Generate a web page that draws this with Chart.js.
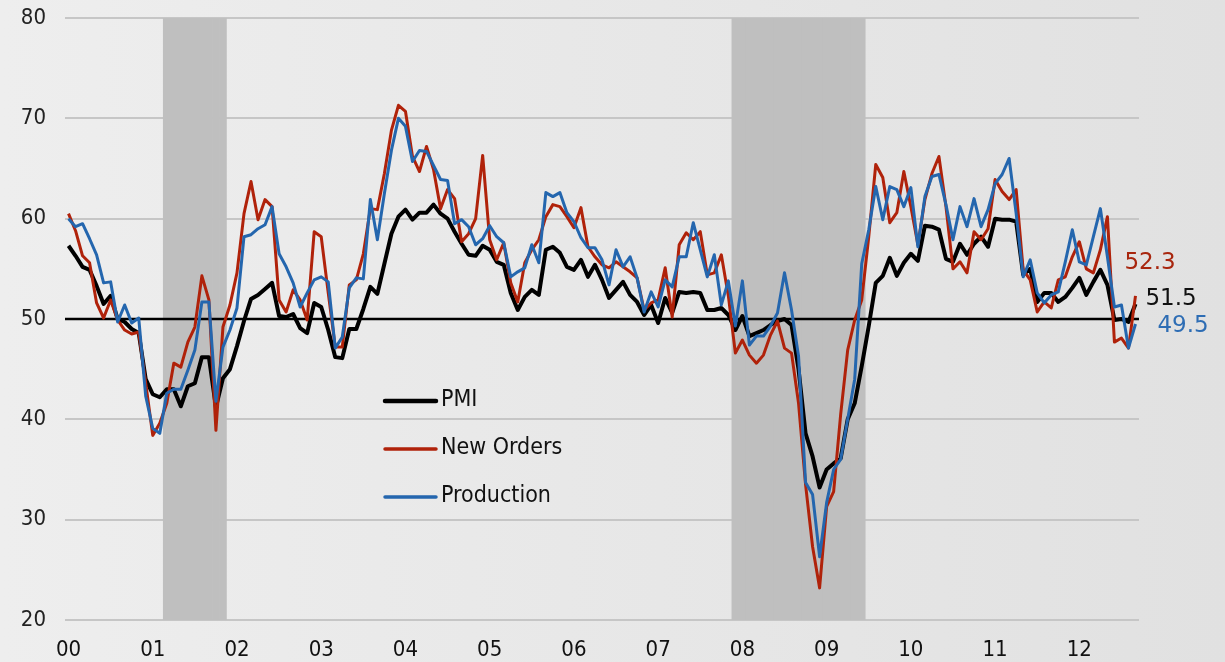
<!DOCTYPE html>
<html>
<head>
<meta charset="utf-8">
<script src="https://cdn.jsdelivr.net/npm/chart.js@4.4.0/dist/chart.umd.min.js"></script>
<style>
  html, body { margin: 0; padding: 0; background: #e8e8e8; }
</style>
</head>
<body>
<canvas id="pmiChart" width="1225" height="662"></canvas>
<script>
// monthly, Jan 2000 - Sep 2012
const startYear = 2000;

const pmi = [
  57.3, 56.3, 55.2, 54.9, 53.3, 51.5, 52.3, 50.0, 49.7, 49.0, 48.6, 44.0,
  42.5, 42.2, 43.0, 43.0, 41.3, 43.3, 43.6, 46.2, 46.2, 41.2, 44.1, 45.0,
  47.3, 49.8, 52.0, 52.4, 53.0, 53.6, 50.3, 50.2, 50.5, 49.1, 48.6, 51.6,
  51.2, 48.9, 46.2, 46.1, 49.0, 49.0, 51.0, 53.2, 52.5, 55.5, 58.5, 60.2,
  60.9, 59.9, 60.6, 60.6, 61.4, 60.5, 60.0, 58.7, 57.5, 56.4, 56.3, 57.3,
  56.9, 55.7, 55.4, 52.6, 50.9, 52.2, 52.9, 52.4, 56.9, 57.2, 56.6, 55.2,
  54.9, 55.9, 54.2, 55.4, 53.9, 52.1, 52.9, 53.7, 52.4, 51.7, 50.4, 51.4,
  49.6, 52.1, 50.6, 52.7, 52.6, 52.7, 52.6, 50.9, 50.9, 51.1, 50.4, 48.9,
  50.3, 48.3, 48.6, 48.9, 49.4, 49.8, 50.0, 49.4, 45.0, 38.6, 36.3, 33.2,
  35.0, 35.6, 36.1, 40.0, 41.6, 45.3, 49.3, 53.6, 54.3, 56.1, 54.3, 55.6,
  56.5, 55.8, 59.3, 59.2, 58.9, 56.0, 55.7, 57.5, 56.4, 57.5, 58.2, 57.2,
  60.0, 59.9, 59.9, 59.7, 54.4, 55.0, 51.7, 52.6, 52.6, 51.7, 52.2, 53.1,
  54.1, 52.4, 53.7, 54.9, 53.4, 49.9, 50.0, 49.7, 51.5
];

const newOrders = [
  60.5, 58.8, 56.3, 55.6, 51.6, 50.1, 51.9, 49.9, 48.9, 48.5, 48.7, 43.6,
  38.4, 39.6, 41.6, 45.6, 45.2, 47.7, 49.2, 54.3, 51.9, 38.9, 49.2, 51.4,
  54.6, 60.5, 63.7, 59.9, 61.9, 61.2, 51.9, 50.7, 52.9, 51.9, 49.9, 58.7,
  58.2, 52.6, 47.2, 47.2, 53.4, 53.9, 56.5, 61.0, 60.9, 64.5, 68.8, 71.3,
  70.7, 66.2, 64.7, 67.2, 64.9, 61.0, 62.9, 62.0, 57.7, 58.5, 60.0, 66.3,
  57.9, 55.9, 57.6, 53.6, 51.7, 55.6, 56.9, 57.9, 60.2, 61.4, 61.2, 60.2,
  59.1, 61.1, 57.2, 56.2, 55.4, 55.1, 55.7, 55.2, 54.7, 54.1, 50.9, 51.6,
  51.9, 55.1, 50.2, 57.4, 58.6, 57.9, 58.7, 54.4, 54.6, 56.4, 52.3, 46.6,
  47.9, 46.4, 45.6, 46.4, 48.4, 49.8, 47.1, 46.6, 41.6, 33.5, 27.3, 23.2,
  31.3, 32.8, 40.5, 46.9, 49.9, 51.9, 58.2, 65.4, 64.1, 59.6, 60.6, 64.7,
  61.2, 57.4, 61.9, 64.5, 66.2, 61.2, 55.0, 55.7, 54.6, 58.7, 57.9, 59.0,
  63.9, 62.7, 61.9, 62.9, 54.9, 53.9, 50.7, 51.7, 51.1, 53.9, 54.2, 56.2,
  57.7, 55.0, 54.6, 56.9, 60.2, 47.7, 48.1, 47.1, 52.3
];

const production = [
  60.0, 59.2, 59.5, 58.0, 56.4, 53.6, 53.7, 49.7, 51.4, 49.6, 50.1, 42.3,
  39.1, 38.6, 42.6, 43.0, 43.0, 44.9, 46.9, 51.7, 51.7, 41.8, 47.2, 48.9,
  51.1, 58.2, 58.4, 59.0, 59.4, 61.2, 56.5, 55.2, 53.6, 51.2, 52.6, 53.9,
  54.2, 53.7, 47.1, 48.2, 53.1, 54.1, 54.0, 61.9, 57.9, 62.5, 66.8, 70.0,
  69.2, 65.7, 66.8, 66.7, 65.3, 63.9, 63.8, 59.5, 59.9, 59.2, 57.4, 58.0,
  59.3, 58.2, 57.6, 54.2, 54.7, 55.1, 57.4, 55.6, 62.6, 62.2, 62.6, 60.6,
  59.7, 58.1, 57.1, 57.1, 55.9, 53.4, 56.9, 55.2, 56.2, 54.1, 50.7, 52.7,
  51.2, 53.9, 53.2, 56.2, 56.2, 59.6, 56.9, 54.2, 56.4, 51.4, 53.8, 49.3,
  53.8, 47.4, 48.3, 48.3, 49.3, 50.6, 54.6, 50.9, 46.3, 33.7, 32.5, 26.3,
  31.7, 35.0, 36.0, 40.0, 44.0, 55.5, 58.9, 63.2, 59.9, 63.2, 62.9, 61.2,
  63.1, 57.2, 62.2, 64.2, 64.4, 61.4, 57.9, 61.2, 59.2, 62.0, 59.2, 60.9,
  63.5, 64.4, 66.0, 60.5, 54.2, 55.9, 52.6, 51.6, 52.4, 52.7, 55.7, 58.9,
  55.7, 55.4, 58.2, 61.0, 56.2, 51.2, 51.4, 47.1, 49.5
];

// recession shading (first and last month)
const recessions = [['2001-03', '2001-11'], ['2007-12', '2009-06']];

const yTicks = [20, 30, 40, 50, 60, 70, 80];

const months = [];
for (let i = 0; i < pmi.length; i++) {
  const yr = startYear + Math.floor(i / 12);
  months.push(yr + '-' + String(i % 12 + 1).padStart(2, '0'));
}
const shading = months.map(m =>
  recessions.some(r => m >= r[0] && m <= r[1]) ? [yTicks[0], yTicks[yTicks.length - 1]] : null
);

const axisFont = "'DejaVu Sans Condensed', 'DejaVu Sans', sans-serif";

const background = {
  id: 'background',
  beforeDraw(chart) {
    const ctx = chart.ctx;
    const g = ctx.createLinearGradient(0, 0, chart.width, 0);
    g.addColorStop(0, '#eeeeee');
    g.addColorStop(1, '#e1e1e1');
    ctx.save();
    ctx.fillStyle = g;
    ctx.fillRect(0, 0, chart.width, chart.height);
    ctx.restore();
  }
};

// black line at 50, above the shading but under the series
const fiftyLine = {
  id: 'fiftyLine',
  afterDatasetDraw(chart, args) {
    if (args.meta.type !== 'bar') return;
    const { ctx, chartArea } = chart;
    const y = chart.scales.y.getPixelForValue(50);
    ctx.save();
    ctx.strokeStyle = '#000';
    ctx.lineWidth = 2.5;
    ctx.beginPath();
    ctx.moveTo(chartArea.left, y);
    ctx.lineTo(chartArea.right, y);
    ctx.stroke();
    ctx.restore();
  }
};

// last value written next to each line
const endLabels = {
  id: 'endLabels',
  afterDatasetsDraw(chart) {
    const ctx = chart.ctx;
    ctx.save();
    ctx.font = "23px 'DejaVu Sans', sans-serif";
    ctx.textBaseline = 'middle';
    chart.data.datasets.forEach((ds, i) => {
      if (!ds.endLabel) return;
      const pts = chart.getDatasetMeta(i).data;
      const p = pts[pts.length - 1];
      ctx.fillStyle = ds.endLabel.color;
      ctx.fillText(ds.data[ds.data.length - 1].toFixed(1), p.x + ds.endLabel.dx, p.y + ds.endLabel.dy);
    });
    ctx.restore();
  }
};

// legend sits inside the plot, lower middle
const legendBox = {
  id: 'legendBox',
  afterDraw(chart) {
    const ctx = chart.ctx;
    const rows = [401, 449, 497];
    ctx.save();
    ctx.font = '23px ' + axisFont;
    ctx.textBaseline = 'middle';
    ctx.lineCap = 'round';
    chart.data.datasets.filter(d => d.type !== 'bar').forEach((ds, i) => {
      const y = rows[i];
      ctx.strokeStyle = ds.borderColor;
      ctx.lineWidth = ds.borderWidth + 0.5;
      ctx.beginPath();
      ctx.moveTo(385, y);
      ctx.lineTo(436, y);
      ctx.stroke();
      ctx.fillStyle = '#111';
      ctx.fillText(ds.label, 441, y - 1);
    });
    ctx.restore();
  }
};

new Chart(document.getElementById('pmiChart'), {
  type: 'line',
  data: {
    labels: months,
    datasets: [
      { label: 'PMI', data: pmi, borderColor: '#000000', borderWidth: 4, order: 3,
        endLabel: { color: '#111111', dx: 10, dy: -5 } },
      { label: 'New Orders', data: newOrders, borderColor: '#b0220a', borderWidth: 3, order: 2,
        endLabel: { color: '#a8260e', dx: -11, dy: -33 } },
      { label: 'Production', data: production, borderColor: '#2466ae', borderWidth: 3, order: 1,
        endLabel: { color: '#2e6db4', dx: 22, dy: 2 } },
      { type: 'bar', label: 'Recession', data: shading, backgroundColor: '#bfbfbf',
        borderWidth: 0, barPercentage: 1, categoryPercentage: 1, order: 4 }
    ]
  },
  options: {
    responsive: false,
    animation: false,
    layout: { padding: { left: 21, top: 18, right: 86, bottom: 0 } },
    elements: {
      point: { radius: 0 },
      line: { tension: 0, borderJoinStyle: 'round' }
    },
    plugins: {
      legend: { display: false },
      tooltip: { enabled: false }
    },
    scales: {
      x: {
        offset: true,
        afterFit: axis => { axis.height = 42; },
        grid: { display: false, drawTicks: false },
        border: { display: false },
        ticks: {
          autoSkip: false,
          maxRotation: 0,
          minRotation: 0,
          padding: 19,
          color: '#111',
          font: { family: axisFont, size: 22, lineHeight: 1 },
          callback: (v, i) => months[i].endsWith('-01') ? months[i].slice(2, 4) : ''
        }
      },
      y: {
        min: yTicks[0],
        max: yTicks[yTicks.length - 1],
        afterBuildTicks: axis => { axis.ticks = yTicks.map(v => ({ value: v })); },
        afterFit: axis => {
          axis.width = 44;
          axis.paddingTop = 0;
          axis.paddingBottom = 0;
        },
        grid: {
          color: c => c.tick.value === 50 ? 'rgba(0,0,0,0)' : '#c6c6c6',
          lineWidth: 2,
          drawTicks: false
        },
        border: { display: false },
        ticks: {
          padding: 19,
          color: '#222',
          font: { family: axisFont, size: 22 }
        }
      }
    }
  },
  plugins: [background, fiftyLine, endLabels, legendBox]
});
</script>
</body>
</html>
